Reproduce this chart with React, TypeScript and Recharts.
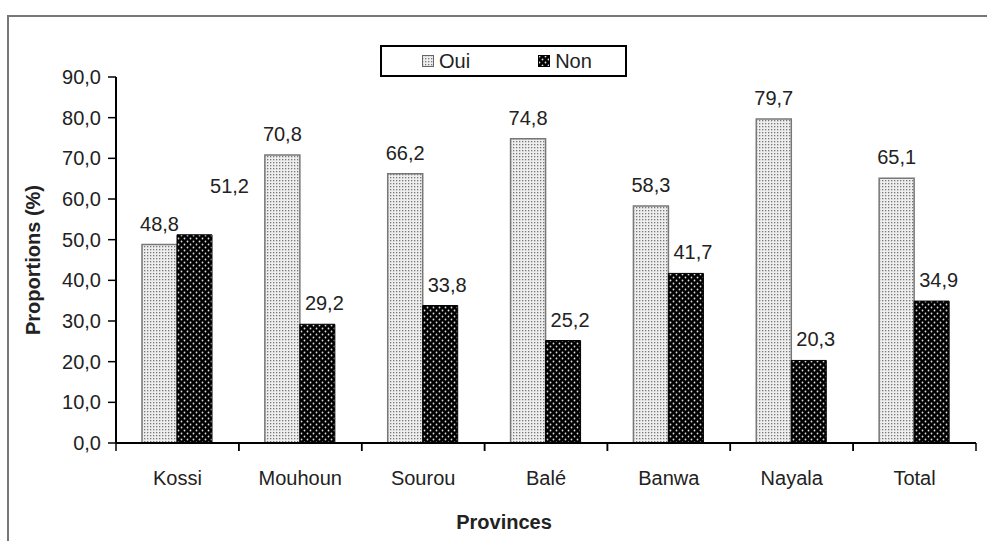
import {
  Bar,
  BarChart,
  LabelList,
  XAxis,
  YAxis,
} from "recharts";

const provinces = ["Kossi", "Mouhoun", "Sourou", "Balé", "Banwa", "Nayala", "Total"];
const oui = [48.8, 70.8, 66.2, 74.8, 58.3, 79.7, 65.1];
const non = [51.2, 29.2, 33.8, 25.2, 41.7, 20.3, 34.9];
const yTicks = [0, 10, 20, 30, 40, 50, 60, 70, 80, 90];

const data = provinces.map((p, i) => ({province: p, Oui: oui[i], Non: non[i]}));

const W = 987;
const H = 541;
const M = {top: 77, right: 11, left: 20, bottom: 58};
const Y_W = 96;
const PLOT_W = W - M.left - Y_W - M.right;
const BAND = PLOT_W / provinces.length;
const FONT = "'Liberation Sans', Arial, sans-serif";

const fmt = (v: number) => v.toFixed(1).replace(".", ",");

function XTick(props: any) {
  const {x, y, payload} = props;
  return (
    <g>
      <line x1={x - BAND / 2} x2={x - BAND / 2} y1={y} y2={y + 8} stroke="#000" strokeWidth={1.5} />
      <line x1={x + BAND / 2} x2={x + BAND / 2} y1={y} y2={y + 8} stroke="#000" strokeWidth={1.5} />
      <text x={x} y={y + 42} textAnchor="middle" fontSize={20} fill="#222" fontFamily={FONT}>
        {payload.value}
      </text>
    </g>
  );
}

function YTitle(props: any) {
  const vb = props.viewBox;
  const cy = vb.y + vb.height / 2;
  return (
    <text
      x={33}
      y={cy}
      transform={`rotate(-90, 33, ${cy})`}
      textAnchor="middle"
      dominantBaseline="central"
      fontSize={20}
      fontWeight="bold"
      fill="#222"
      fontFamily={FONT}
    >
      Proportions (%)
    </text>
  );
}

function ValueLabel(props: any) {
  const {x, y, width, value, index, shift} = props;
  // les étiquettes "Non" sont un peu à droite, et 51,2 (Kossi) est remontée
  let dx = shift ? 7 : 0;
  let dy = 0;
  if (shift && index === 0) {
    dx = 35;
    dy = -28;
  }
  return (
    <text
      x={x + width / 2 + dx}
      y={y - 14 + dy}
      textAnchor="middle"
      fontSize={20}
      fill="#222"
      fontFamily={FONT}
    >
      {fmt(value)}
    </text>
  );
}

function LegendBox() {
  return (
    <div
      style={{
        position: "absolute",
        left: 380,
        top: 45,
        width: 247,
        height: 32,
        border: "2px solid #000",
        boxSizing: "border-box",
        background: "#fff",
        display: "flex",
        alignItems: "center",
        fontFamily: FONT,
        fontSize: 20,
        color: "#222",
      }}
    >
      <svg width={12} height={12} style={{marginLeft: 40, marginRight: 5}}>
        <rect x={0.5} y={0.5} width={11} height={11} fill="url(#patOui)" stroke="#666" />
      </svg>
      <span>Oui</span>
      <svg width={12} height={12} style={{marginLeft: 68, marginRight: 5}}>
        <rect x={0.5} y={0.5} width={11} height={11} fill="url(#patNon)" stroke="#000" />
      </svg>
      <span>Non</span>
    </div>
  );
}

export default function App() {
  return (
    <div style={{position: "absolute", left: 0, top: 0, width: W, height: H, background: "#fff", overflow: "hidden"}}>
      <div
        style={{
          position: "absolute",
          left: 7,
          top: 15,
          width: W,
          height: H,
          borderLeft: "2px solid #777",
          borderTop: "2px solid #777",
        }}
      />
      <BarChart
        width={W}
        height={H}
        data={data}
        margin={M}
        barCategoryGap="21.5%"
        barGap={0}
        style={{position: "absolute", left: 0, top: 0}}
      >
        <defs>
          <pattern id="patOui" width={3} height={3} patternUnits="userSpaceOnUse">
            <rect width={3} height={3} fill="#eeeeee" />
            <rect width={1.3} height={1.3} fill="#777" />
          </pattern>
          <pattern id="patNon" width={6} height={6} patternUnits="userSpaceOnUse">
            <rect width={6} height={6} fill="#000" />
            <circle cx={1.5} cy={1.5} r={0.9} fill="#ddd" />
            <circle cx={4.5} cy={4.5} r={0.9} fill="#ddd" />
          </pattern>
        </defs>
        <XAxis
          dataKey="province"
          height={40}
          tickSize={0}
          tickMargin={0}
          tickLine={false}
          axisLine={{stroke: "#000", strokeWidth: 2}}
          tick={<XTick />}
          interval={0}
          label={{
            value: "Provinces",
            position: "bottom",
            offset: 32,
            fontSize: 20,
            fontWeight: "bold",
            fill: "#222",
            fontFamily: FONT,
            dx: -42,
          }}
        />
        <YAxis
          width={Y_W}
          domain={[0, 90]}
          ticks={yTicks}
          tickFormatter={fmt}
          tickSize={8}
          tickMargin={7}
          tickLine={{stroke: "#000", strokeWidth: 1.5}}
          axisLine={{stroke: "#000", strokeWidth: 2}}
          tick={{fontSize: 20, fill: "#222", fontFamily: FONT}}
          label={<YTitle />}
        />
        <Bar dataKey="Oui" barSize={35} fill="url(#patOui)" stroke="#777" strokeWidth={1.5} isAnimationActive={false}>
          <LabelList dataKey="Oui" content={<ValueLabel />} />
        </Bar>
        <Bar dataKey="Non" barSize={35} fill="url(#patNon)" stroke="#000" strokeWidth={1} isAnimationActive={false}>
          <LabelList dataKey="Non" content={<ValueLabel shift />} />
        </Bar>
      </BarChart>
      <LegendBox />
    </div>
  );
}
